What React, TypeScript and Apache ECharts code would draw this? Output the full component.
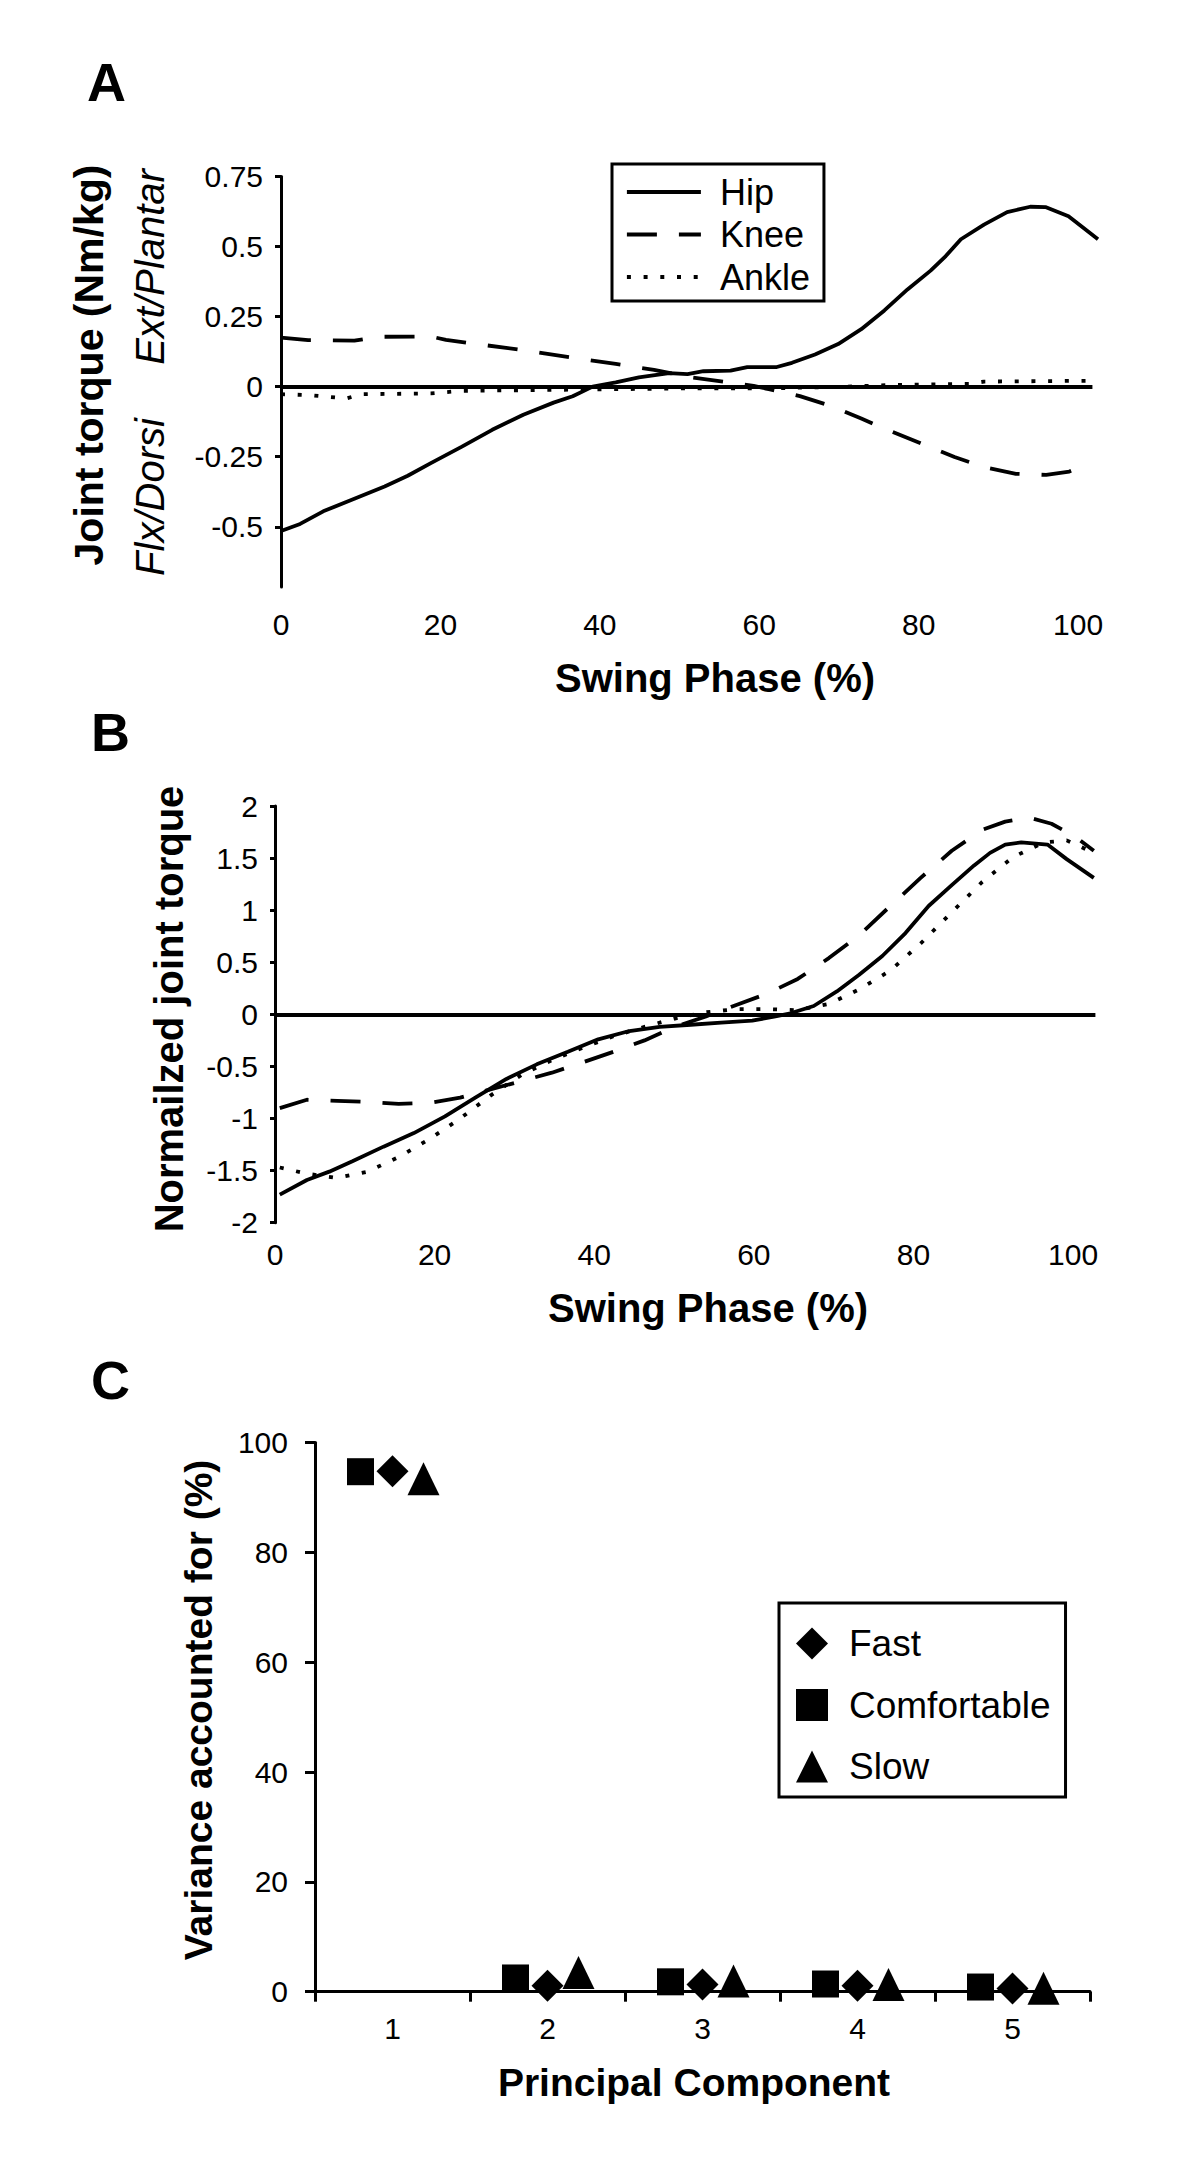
import React, { useEffect, useRef } from "react";
import * as echarts from "echarts";

const FONT = "'Liberation Sans', Arial, Helvetica, sans-serif";

// ---------- Panel A: joint torque (Nm/kg) vs swing phase (%) ----------
const hipA: [number, number][] = [
  [0, -0.515], [2.4, -0.49], [5.3, -0.445], [9.2, -0.4], [13, -0.356], [15.9, -0.318],
  [18.8, -0.273], [22.7, -0.214], [26.5, -0.154], [30.4, -0.1], [34.2, -0.057], [36.6, -0.034],
  [39.1, 0], [42, 0.015], [44.9, 0.033], [48.7, 0.048], [51, 0.045], [53, 0.055], [56.4, 0.057],
  [58.5, 0.07], [62.2, 0.07], [64.1, 0.085], [67, 0.115], [69.9, 0.152], [72.8, 0.205],
  [75.7, 0.272], [78.6, 0.347], [81.5, 0.414], [83.4, 0.466], [85.3, 0.526], [88.2, 0.578],
  [91.1, 0.623], [94, 0.642], [95.9, 0.641], [98.8, 0.608], [102.5, 0.526],
];
const kneeA: [number, number][] = [
  [0, 0.175], [3.4, 0.166], [9.2, 0.164], [12.1, 0.178], [18.8, 0.179], [20.7, 0.167],
  [24.6, 0.152], [30.4, 0.13], [36.2, 0.105], [42, 0.081], [46.8, 0.06], [51.6, 0.033],
  [55.5, 0.018], [59.3, 0.003], [61.2, -0.009], [65.1, -0.034], [69, -0.069], [72.8, -0.114],
  [76.7, -0.161], [80.6, -0.206], [84.5, -0.251], [88.3, -0.288], [92.2, -0.311], [96, -0.315],
  [98.9, -0.303], [100.8, -0.281],
];
const ankleA: [number, number][] = [
  [0, -0.027], [3.4, -0.03], [8.2, -0.042], [10.1, -0.027], [18.8, -0.024], [22.7, -0.015],
  [32.3, -0.012], [42, -0.009], [51.6, -0.006], [61.2, -0.006], [70.9, 0], [76.7, 0.006],
  [86.3, 0.01], [88.2, 0.018], [101.6, 0.021],
];

// ---------- Panel B: normalized joint torque vs swing phase (%) ----------
const hipB: [number, number][] = [
  [0.6, -1.73], [4, -1.59], [6.8, -1.51], [9.7, -1.41], [13.6, -1.27], [17.4, -1.14],
  [21.3, -0.98], [25.1, -0.8], [29, -0.62], [32.8, -0.48], [36.7, -0.36], [40.5, -0.24],
  [44.4, -0.16], [48.2, -0.12], [52.1, -0.1], [55.9, -0.08], [59.8, -0.06], [62.7, -0.02],
  [64.6, 0.01], [67.5, 0.08], [70.4, 0.22], [73.2, 0.38], [76.1, 0.56], [79, 0.78],
  [81.9, 1.04], [84.8, 1.24], [87.6, 1.43], [89.6, 1.55], [91.5, 1.63], [93.5, 1.65],
  [96.8, 1.63], [99.2, 1.49], [102.6, 1.31],
];
const kneeB: [number, number][] = [
  [0.6, -0.9], [4, -0.82], [7.8, -0.83], [11.6, -0.84], [15.5, -0.86], [19.3, -0.85],
  [23.2, -0.8], [27, -0.72], [30.9, -0.64], [34.7, -0.56], [38.6, -0.46], [42.4, -0.36],
  [46.3, -0.25], [50.1, -0.12], [54, -0.02], [57.8, 0.09], [61.7, 0.2], [65.5, 0.34],
  [69.4, 0.54], [73.2, 0.76], [77.1, 1.04], [80.9, 1.31], [84.8, 1.57], [88.6, 1.77],
  [91.5, 1.85], [94.4, 1.89], [97.3, 1.83], [100.2, 1.71], [102.6, 1.57],
];
const ankleB: [number, number][] = [
  [0.6, -1.47], [4, -1.53], [7.8, -1.57], [11.6, -1.51], [15.5, -1.37], [19.3, -1.2],
  [23.2, -1.0], [27, -0.78], [30.9, -0.58], [34.7, -0.44], [38.6, -0.32], [42.4, -0.21],
  [46.3, -0.12], [50.1, -0.04], [54, 0.02], [57.8, 0.05], [61.7, 0.05], [65.5, 0.04],
  [69.4, 0.1], [73.2, 0.24], [77.1, 0.42], [80.9, 0.68], [84.8, 0.98], [88.6, 1.27],
  [92.5, 1.51], [96.3, 1.65], [99.2, 1.67], [102.6, 1.55],
];

// ---------- Panel C: variance accounted for (%) per principal component ----------
const principalComponents = [1, 2, 3, 4, 5];
const fastVAF = [94.8, 1.1, 1.3, 1.1, 0.6];
const comfortableVAF = [94.7, 2.5, 1.8, 1.4, 0.85];
const slowVAF = [93.4, 3.5, 1.95, 1.3, 0.65];

// ---------- tick labels ----------
const swingTicks = [0, 20, 40, 60, 80, 100];
const torqueTicksA = [-0.5, -0.25, 0, 0.25, 0.5, 0.75];
const pcTickBounds = [0.5, 1.5, 2.5, 3.5, 4.5, 5.5];

const black = "#000";

function vText(text: string, x: number, y: number, size: number, weight: string, style = "normal") {
  return {
    type: "text",
    x,
    y,
    rotation: Math.PI / 2,
    style: {
      text,
      fill: black,
      fontSize: size,
      fontWeight: weight,
      fontStyle: style,
      fontFamily: FONT,
      align: "center",
      verticalAlign: "middle",
      textAlign: "center",
      textVerticalAlign: "middle",
    },
  };
}
function hText(text: string, x: number, y: number, size: number, weight: string, align = "center") {
  return {
    type: "text",
    x,
    y,
    style: {
      text,
      fill: black,
      fontSize: size,
      fontWeight: weight,
      fontFamily: FONT,
      align,
      verticalAlign: "middle",
      textAlign: align,
      textVerticalAlign: "middle",
    },
  };
}

export default function App() {
  const ref = useRef<HTMLDivElement>(null);

  useEffect(() => {
    if (!ref.current) return;
    const chart = echarts.init(ref.current, undefined, { renderer: "svg" });

    const tickLabel = { color: black, fontSize: 30, fontFamily: FONT };
    const curveW = 3.8;

    const option: any = {
      animation: false,
      backgroundColor: "#fff",
      grid: [
        { left: 281, top: 176.5, width: 817, height: 410.5 },
        { left: 275, top: 806, width: 822, height: 416.7 },
        { left: 315, top: 1442.6, width: 775, height: 549.1 },
      ],
      xAxis: [
        {
          gridIndex: 0, type: "value", min: 0, max: 102.5,
          axisLine: { show: false }, axisTick: { show: false }, splitLine: { show: false },
          axisLabel: { ...tickLabel, margin: 22, customValues: swingTicks },
        },
        {
          gridIndex: 1, type: "value", min: 0, max: 103,
          axisLine: { show: false }, axisTick: { show: false }, splitLine: { show: false },
          axisLabel: { ...tickLabel, margin: 17, customValues: swingTicks },
        },
        {
          gridIndex: 2, type: "value", min: 0.5, max: 5.5,
          axisLine: { show: true, onZero: false, lineStyle: { color: black, width: 3 } },
          axisTick: { show: true, length: 10, lineStyle: { color: black, width: 3 }, customValues: pcTickBounds },
          splitLine: { show: false },
          axisLabel: { ...tickLabel, margin: 22, customValues: principalComponents },
        },
      ],
      yAxis: [
        {
          gridIndex: 0, type: "value", min: -0.715, max: 0.75,
          axisLine: { show: true, onZero: false, lineStyle: { color: black, width: 3 } },
          axisTick: { show: true, length: 6, lineStyle: { color: black, width: 3 }, customValues: torqueTicksA },
          splitLine: { show: false },
          axisLabel: { ...tickLabel, margin: 18, customValues: torqueTicksA },
        },
        {
          gridIndex: 1, type: "value", min: -2, max: 2, interval: 0.5,
          axisLine: { show: true, onZero: false, lineStyle: { color: black, width: 3 } },
          axisTick: { show: true, length: 5, lineStyle: { color: black, width: 3 } },
          splitLine: { show: false },
          axisLabel: { ...tickLabel, margin: 17 },
        },
        {
          gridIndex: 2, type: "value", min: 0, max: 100, interval: 20,
          axisLine: { show: true, onZero: false, lineStyle: { color: black, width: 3 } },
          axisTick: { show: true, length: 10, lineStyle: { color: black, width: 3 } },
          splitLine: { show: false },
          axisLabel: { ...tickLabel, margin: 27 },
        },
      ],
      legend: [
        {
          left: 612, top: 164, orient: "vertical",
          data: ["Hip", "Knee", "Ankle"],
          itemWidth: 74, itemHeight: 14, itemGap: 6.5,
          padding: [10, 14, 6, 13],
          borderColor: black, borderWidth: 3, backgroundColor: "#fff",
          itemStyle: { opacity: 0, borderWidth: 0 },
          lineStyle: { width: curveW },
          textStyle: { color: black, fontSize: 36, fontFamily: FONT, padding: [0, 0, 0, 14] },
          selectedMode: false,
        },
        {
          left: 779, top: 1603, orient: "vertical",
          data: ["Fast", "Comfortable", "Slow"],
          itemWidth: 32, itemHeight: 32, itemGap: 24.5,
          padding: [22, 15, 12, 17],
          borderColor: black, borderWidth: 3, backgroundColor: "#fff",
          itemStyle: { opacity: 1 },
          textStyle: { color: black, fontSize: 37, fontFamily: FONT, padding: [0, 0, 0, 16] },
          selectedMode: false,
        },
      ],
      series: [
        {
          name: "Hip", type: "line", xAxisIndex: 0, yAxisIndex: 0, data: hipA,
          symbol: "none", showSymbol: false, lineStyle: { color: black, width: curveW, type: "solid" }, itemStyle: { color: black },
          markLine: {
            silent: true, symbol: ["none", "none"], label: { show: false },
            lineStyle: { color: black, width: 4, type: "solid" },
            data: [[{ coord: [0, 0] }, { coord: [101.8, 0] }]],
          },
        },
        {
          name: "Knee", type: "line", xAxisIndex: 0, yAxisIndex: 0, data: kneeA,
          symbol: "none", showSymbol: false, lineStyle: { color: black, width: curveW, type: [30, 22] }, itemStyle: { color: black },
        },
        {
          name: "Ankle", type: "line", xAxisIndex: 0, yAxisIndex: 0, data: ankleA,
          symbol: "none", showSymbol: false, lineStyle: { color: black, width: curveW, type: [4, 12.7] }, itemStyle: { color: black },
        },
        {
          name: "Hip", type: "line", xAxisIndex: 1, yAxisIndex: 1, data: hipB,
          symbol: "none", showSymbol: false, lineStyle: { color: black, width: curveW, type: "solid" }, itemStyle: { color: black },
          markLine: {
            silent: true, symbol: ["none", "none"], label: { show: false },
            lineStyle: { color: black, width: 3.8, type: "solid" },
            data: [[{ coord: [0, 0] }, { coord: [102.8, 0] }]],
          },
        },
        {
          name: "Knee", type: "line", xAxisIndex: 1, yAxisIndex: 1, data: kneeB,
          symbol: "none", showSymbol: false, lineStyle: { color: black, width: curveW, type: [30, 22] }, itemStyle: { color: black },
        },
        {
          name: "Ankle", type: "line", xAxisIndex: 1, yAxisIndex: 1, data: ankleB,
          symbol: "none", showSymbol: false, lineStyle: { color: black, width: curveW, type: [4, 12.7] }, itemStyle: { color: black },
        },
        {
          name: "Fast", type: "scatter", xAxisIndex: 2, yAxisIndex: 2,
          data: principalComponents.map((pc, i) => [pc, fastVAF[i]]),
          symbol: "diamond", symbolSize: 32, itemStyle: { color: black, opacity: 1 },
        },
        {
          name: "Comfortable", type: "scatter", xAxisIndex: 2, yAxisIndex: 2,
          data: principalComponents.map((pc, i) => [pc, comfortableVAF[i]]),
          symbol: "rect", symbolSize: 27, symbolOffset: [-32, 0], itemStyle: { color: black, opacity: 1 },
        },
        {
          name: "Slow", type: "scatter", xAxisIndex: 2, yAxisIndex: 2,
          data: principalComponents.map((pc, i) => [pc, slowVAF[i]]),
          symbol: "triangle", symbolSize: [32, 33], symbolOffset: [31, 0], itemStyle: { color: black, opacity: 1 },
        },
      ],
      graphic: [
        hText("A", 87, 82, 54, "bold", "left"),
        hText("B", 91, 732, 54, "bold", "left"),
        hText("C", 91, 1380, 54, "bold", "left"),
        vText("Joint torque (Nm/kg)", 89, 365, 41, "bold"),
        vText("Ext/Plantar", 150, 267, 40, "normal", "italic"),
        vText("Flx/Dorsi", 150, 497, 40, "normal", "italic"),
        hText("Swing Phase (%)", 715, 678, 40, "bold"),
        vText("Normailzed joint torque", 169, 1009, 40, "bold"),
        hText("Swing Phase (%)", 708, 1308, 40, "bold"),
        vText("Variance accounted for (%)", 198, 1710, 39, "bold"),
        hText("Principal Component", 694, 2082, 39, "bold"),
      ],
    };

    chart.setOption(option);
    return () => chart.dispose();
  }, []);

  return (
    <div
      ref={ref}
      style={{ position: "absolute", left: 0, top: 0, width: 1200, height: 2169, background: "#fff" }}
    />
  );
}
